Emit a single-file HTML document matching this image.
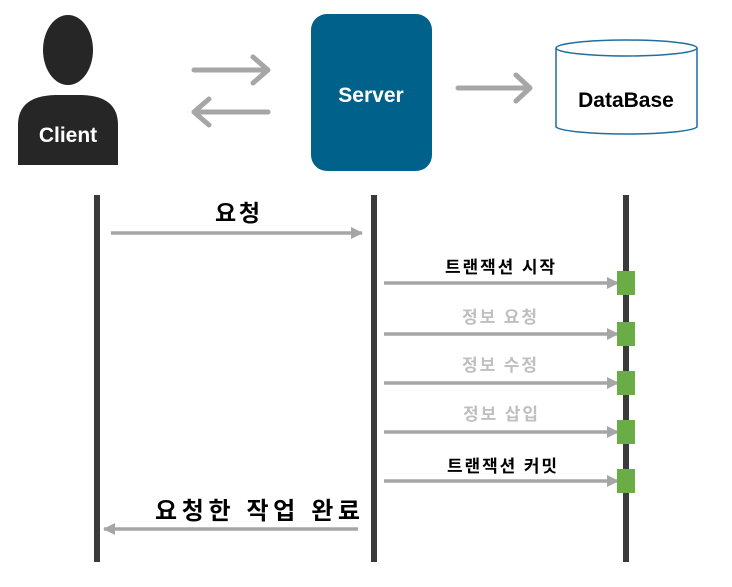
<!DOCTYPE html>
<html><head><meta charset="utf-8"><style>
body{margin:0;background:#fff;}
svg text{font-family:"Liberation Sans","Noto Sans CJK KR",sans-serif;font-weight:bold;}
</style></head><body>
<svg width="732" height="582" xmlns="http://www.w3.org/2000/svg">
<defs>
<marker id="ah" markerWidth="12" markerHeight="12" refX="11" refY="6" orient="auto" markerUnits="userSpaceOnUse"><path d="M0,0 L12,6 L0,12 z" fill="#a6a6a6"/></marker>
</defs>
<ellipse cx="68" cy="50" rx="25" ry="35" fill="#262626"/>
<path d="M18,165 L18,125 Q18,96 55,95 L82,95 Q118,96 118,125 L118,165 z" fill="#262626"/>
<text x="68" y="142" font-size="21" fill="#fff" text-anchor="middle">Client</text>
<g stroke="#a6a6a6" stroke-width="5" fill="none" stroke-linecap="round" stroke-linejoin="round">
<path d="M194,70 L268,70 M253,57 L268,70 L253,83"/>
<path d="M268,112 L194,112 M209,99 L194,112 L209,125"/>
<path d="M458,88 L530,88 M516,75 L530,88 L516,101"/>
</g>
<rect x="311" y="14" width="121" height="157" rx="16" fill="#00618b"/>
<text x="371" y="102" font-size="21" fill="#fff" text-anchor="middle">Server</text>
<path d="M556,48 L556,127 A71,8 0 0 0 697,127 L697,48" fill="#fff" stroke="#1f6fa0" stroke-width="1.5"/>
<ellipse cx="626.5" cy="48" rx="70.5" ry="8" fill="#fff" stroke="#1f6fa0" stroke-width="1.5"/>
<text x="626" y="107" font-size="21" fill="#000" text-anchor="middle">DataBase</text>
<rect x="94" y="195" width="6" height="367" fill="#3a3a3a"/>
<rect x="371" y="195" width="6" height="367" fill="#3a3a3a"/>
<rect x="623" y="195" width="6" height="367" fill="#3a3a3a"/>
<g stroke="#a6a6a6" stroke-width="3.5">
<line x1="111" y1="233" x2="362" y2="233" marker-end="url(#ah)"/>
<line x1="384" y1="283" x2="618" y2="283" marker-end="url(#ah)"/>
<line x1="384" y1="334" x2="618" y2="334" marker-end="url(#ah)"/>
<line x1="384" y1="383" x2="618" y2="383" marker-end="url(#ah)"/>
<line x1="384" y1="432" x2="618" y2="432" marker-end="url(#ah)"/>
<line x1="384" y1="481" x2="618" y2="481" marker-end="url(#ah)"/>
<line x1="358" y1="529" x2="104" y2="529" marker-end="url(#ah)"/>
</g>
<g fill="#6aac45">
<rect x="617" y="271" width="18" height="24"/>
<rect x="617" y="322" width="18" height="24"/>
<rect x="617" y="371" width="18" height="24"/>
<rect x="617" y="420" width="18" height="24"/>
<rect x="617" y="469" width="18" height="24"/>
</g>
<text x="215" y="221" font-size="23" fill="#000" textLength="45" lengthAdjust="spacing">요청</text>
<text x="445" y="273" font-size="17" fill="#000" textLength="110" lengthAdjust="spacing">트랜잭션 시작</text>
<text x="462" y="323" font-size="17" fill="#bfbfbf" textLength="75" lengthAdjust="spacing">정보 요청</text>
<text x="462" y="371" font-size="17" fill="#bfbfbf" textLength="75" lengthAdjust="spacing">정보 수정</text>
<text x="463" y="420" font-size="17" fill="#bfbfbf" textLength="75" lengthAdjust="spacing">정보 삽입</text>
<text x="447" y="472" font-size="17" fill="#000" textLength="110" lengthAdjust="spacing">트랜잭션 커밋</text>
<text x="155" y="519" font-size="24" fill="#000" textLength="205" lengthAdjust="spacing">요청한 작업 완료</text>
</svg>
</body></html>
